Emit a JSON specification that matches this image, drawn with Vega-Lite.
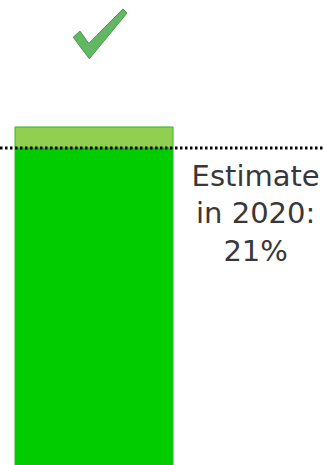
{
  "$schema": "https://vega.github.io/schema/vega-lite/v6.json",
  "autosize": "none",
  "width": 324,
  "height": 465,
  "padding": 0,
  "background": "#ffffff",
  "config": {"view": {"stroke": null}},
  "datasets": {
    "bars": [
      {"segment": "Share to 2020 estimate", "x0": 4.63, "x1": 53.4, "start": 0, "end": 21},
      {"segment": "Above estimate", "x0": 4.63, "x1": 53.4, "start": 21, "end": 22.39}
    ],
    "estimate": [
      {"label": "Estimate\nin 2020:\n21%", "value": 21, "xs": 0, "xe": 100, "xt": 78.9, "yt": 18.5}
    ],
    "check": [
      {"x": 30.9, "y": 28.6}
    ]
  },
  "layer": [
    {
      "data": {"name": "bars"},
      "mark": {"type": "bar", "stroke": "#2fb52f", "strokeWidth": 1},
      "encoding": {
        "x": {"field": "x0", "type": "quantitative", "scale": {"domain": [0, 100], "nice": false}, "axis": null},
        "x2": {"field": "x1"},
        "y": {"field": "start", "type": "quantitative", "scale": {"domain": [0, 30.8], "nice": false}, "axis": null},
        "y2": {"field": "end"},
        "color": {
          "field": "segment",
          "type": "nominal",
          "scale": {"domain": ["Share to 2020 estimate", "Above estimate"], "range": ["#00cc00", "#90cf50"]},
          "legend": null
        }
      }
    },
    {
      "data": {"name": "estimate"},
      "mark": {"type": "rule", "color": "#000000", "strokeWidth": 3, "strokeDash": [2.5, 2.5]},
      "encoding": {
        "x": {"field": "xs", "type": "quantitative"},
        "x2": {"field": "xe"},
        "y": {"field": "value", "type": "quantitative"}
      }
    },
    {
      "data": {"name": "estimate"},
      "mark": {
        "type": "text",
        "font": "DejaVu Sans",
        "fontSize": 29,
        "lineHeight": 37.5,
        "lineBreak": "\n",
        "align": "center",
        "baseline": "alphabetic",
        "color": "#383838"
      },
      "encoding": {
        "x": {"field": "xt", "type": "quantitative"},
        "y": {"field": "yt", "type": "quantitative"},
        "text": {"field": "label"}
      }
    },
    {
      "data": {"name": "check"},
      "mark": {
        "type": "point",
        "shape": "M -1 0.15 L -0.75 -0.08 L -0.42 0.38 L 0.85 -0.9 L 1 -0.75 L -0.4 0.95 Z",
        "filled": true,
        "size": 2900,
        "color": "#62b862",
        "stroke": "#4a964a",
        "strokeWidth": 1,
        "opacity": 1
      },
      "encoding": {
        "x": {"field": "x", "type": "quantitative"},
        "y": {"field": "y", "type": "quantitative"}
      }
    }
  ]
}
